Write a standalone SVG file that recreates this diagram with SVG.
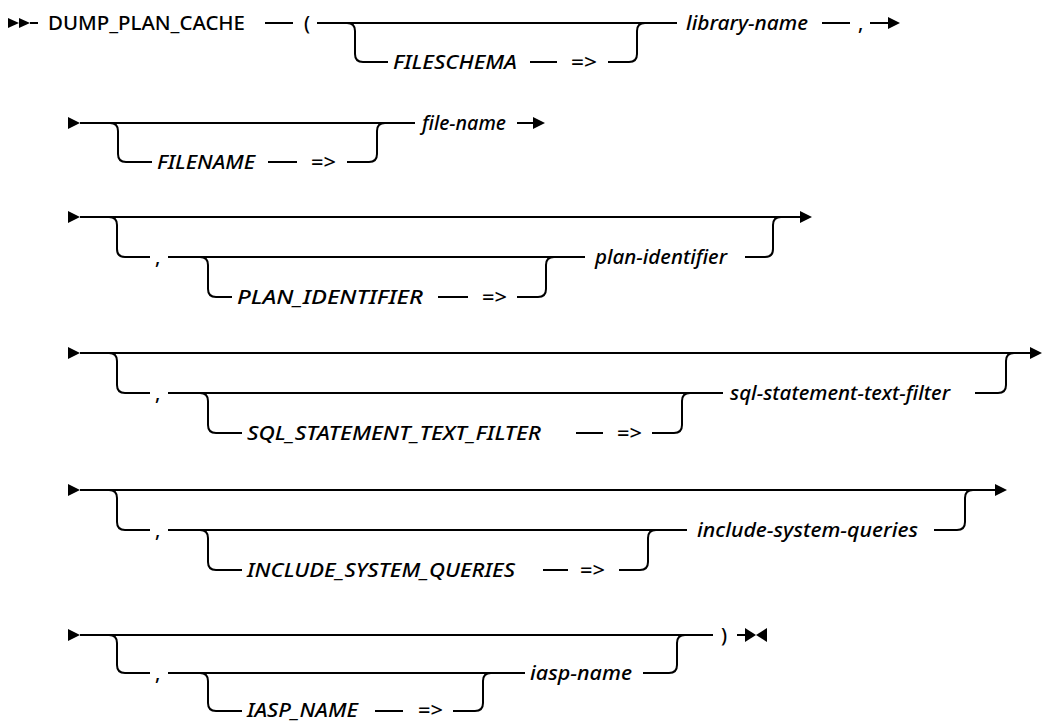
<svg xmlns="http://www.w3.org/2000/svg" xmlns:xlink="http://www.w3.org/1999/xlink" width="1042" height="721" viewBox="0 0 1042 721">
<style>
  .ln { fill: none; stroke: #000; stroke-width: 2; stroke-linecap: butt; }
  .t { font-family: "Noto Sans", "DejaVu Sans", sans-serif; font-size: 19.5px; font-weight: 500; fill: #000; }
  .i { font-style: italic; }
  .ah { fill: #000; }
</style>
<defs>
  <path id="tri" d="M0,-6 L12,0 L0,6 Z"/>
  <path id="tris" d="M0,-5 L11,0 L0,5 Z"/>
  <path id="tril" d="M0,-7 L11,0 L0,7 Z"/>
  <path id="trir" d="M11,-7 L0,0 L11,7 Z"/>
</defs>
<rect width="1042" height="721" fill="#fff"/>

<g id="connectors">
  <!-- Row 1 -->
  <use href="#tris" x="8" y="23" class="ah"/>
  <use href="#tris" x="19" y="23" class="ah"/>
  <path class="ln" d="M30,23 H38"/>
  <path class="ln" d="M265,23 H293"/>
  <path class="ln" d="M317,23 H677"/>
  <path class="ln" d="M347,23 Q355,23 355,31 V54 Q355,62 363,62 H388"/>
  <path class="ln" d="M530,62 H557"/>
  <path class="ln" d="M608,62 H629 Q637,62 637,54 V31 Q637,23 645,23"/>
  <path class="ln" d="M822,23 H850"/>
  <path class="ln" d="M870,23 H888"/>
  <use href="#tri" x="888" y="23" class="ah"/>

  <!-- Row 2 -->
  <use href="#tri" x="68" y="123" class="ah"/>
  <path class="ln" d="M80,123 H415"/>
  <path class="ln" d="M110,123 Q118,123 118,131 V154 Q118,162 126,162 H152"/>
  <path class="ln" d="M268,162 H297"/>
  <path class="ln" d="M347,162 H369 Q377,162 377,154 V131 Q377,123 385,123"/>
  <path class="ln" d="M517,123 H533"/>
  <use href="#tri" x="533" y="123" class="ah"/>

  <!-- Row 3 -->
  <use href="#tri" x="68" y="217" class="ah"/>
  <path class="ln" d="M80,217 H800"/>
  <use href="#tri" x="800" y="217" class="ah"/>
  <path class="ln" d="M109,217 Q117,217 117,225 V249 Q117,257 125,257 H150"/>
  <path class="ln" d="M168,257 H585"/>
  <path class="ln" d="M200,257 Q208,257 208,265 V289 Q208,297 216,297 H232"/>
  <path class="ln" d="M438,297 H468"/>
  <path class="ln" d="M517,297 H538 Q546,297 546,289 V265 Q546,257 554,257"/>
  <path class="ln" d="M745,257 H765 Q773,257 773,249 V225 Q773,217 781,217"/>

  <!-- Row 4 -->
  <use href="#tri" x="68" y="353" class="ah"/>
  <path class="ln" d="M80,353 H1030"/>
  <use href="#tri" x="1030" y="353" class="ah"/>
  <path class="ln" d="M109,353 Q117,353 117,361 V385 Q117,393 125,393 H150"/>
  <path class="ln" d="M168,393 H723"/>
  <path class="ln" d="M200,393 Q208,393 208,401 V425 Q208,433 216,433 H242"/>
  <path class="ln" d="M576,433 H603"/>
  <path class="ln" d="M652,433 H674 Q682,433 682,425 V401 Q682,393 690,393"/>
  <path class="ln" d="M975,393 H998 Q1006,393 1006,385 V361 Q1006,353 1014,353"/>

  <!-- Row 5 -->
  <use href="#tri" x="68" y="490" class="ah"/>
  <path class="ln" d="M80,490 H995"/>
  <use href="#tri" x="995" y="490" class="ah"/>
  <path class="ln" d="M109,490 Q117,490 117,498 V522 Q117,530 125,530 H150"/>
  <path class="ln" d="M168,530 H687"/>
  <path class="ln" d="M200,530 Q208,530 208,538 V562 Q208,570 216,570 H242"/>
  <path class="ln" d="M543,570 H568"/>
  <path class="ln" d="M619,570 H640 Q648,570 648,562 V538 Q648,530 656,530"/>
  <path class="ln" d="M934,530 H957 Q965,530 965,522 V498 Q965,490 973,490"/>

  <!-- Row 6 -->
  <use href="#tri" x="68" y="635" class="ah"/>
  <path class="ln" d="M80,635 H713"/>
  <path class="ln" d="M109,635 Q117,635 117,643 V665 Q117,673 125,673 H150"/>
  <path class="ln" d="M168,673 H525"/>
  <path class="ln" d="M200,673 Q208,673 208,681 V703 Q208,711 216,711 H242"/>
  <path class="ln" d="M375,711 H403"/>
  <path class="ln" d="M453,711 H475 Q483,711 483,703 V681 Q483,673 491,673"/>
  <path class="ln" d="M643,673 H669 Q677,673 677,665 V643 Q677,635 685,635"/>
  <path class="ln" d="M737,635 H745"/>
  <use href="#tril" x="745" y="635" class="ah"/>
  <use href="#trir" x="756" y="635" class="ah"/>
</g>

<g id="row1">
  <text class="t" x="48" y="30" textLength="197" lengthAdjust="spacingAndGlyphs">DUMP_PLAN_CACHE</text>
  <text class="t" x="304" y="30">(</text>
  <text class="t i" x="393" y="69" textLength="124" lengthAdjust="spacingAndGlyphs">FILESCHEMA</text>
  <text class="t" x="571" y="69" textLength="26" lengthAdjust="spacingAndGlyphs">=&gt;</text>
  <text class="t i" x="686" y="30" textLength="122" lengthAdjust="spacingAndGlyphs">library-name</text>
  <text class="t" x="858" y="30">,</text>
</g>

<g id="row2">
  <text class="t i" x="157" y="169" textLength="98" lengthAdjust="spacingAndGlyphs">FILENAME</text>
  <text class="t" x="311" y="169" textLength="25" lengthAdjust="spacingAndGlyphs">=&gt;</text>
  <text class="t i" x="422" y="130" textLength="84" lengthAdjust="spacingAndGlyphs">file-name</text>
</g>

<g id="row3">
  <text class="t" x="155" y="264">,</text>
  <text class="t i" x="237" y="304" textLength="186" lengthAdjust="spacingAndGlyphs">PLAN_IDENTIFIER</text>
  <text class="t" x="482" y="304" textLength="25" lengthAdjust="spacingAndGlyphs">=&gt;</text>
  <text class="t i" x="595" y="264" textLength="132" lengthAdjust="spacingAndGlyphs">plan-identifier</text>
</g>

<g id="row4">
  <text class="t" x="155" y="400">,</text>
  <text class="t i" x="247" y="440" textLength="294" lengthAdjust="spacingAndGlyphs">SQL_STATEMENT_TEXT_FILTER</text>
  <text class="t" x="617" y="440" textLength="25" lengthAdjust="spacingAndGlyphs">=&gt;</text>
  <text class="t i" x="730" y="400" textLength="220" lengthAdjust="spacingAndGlyphs">sql-statement-text-filter</text>
</g>

<g id="row5">
  <text class="t" x="155" y="537">,</text>
  <text class="t i" x="247" y="577" textLength="268" lengthAdjust="spacingAndGlyphs">INCLUDE_SYSTEM_QUERIES</text>
  <text class="t" x="580" y="577" textLength="25" lengthAdjust="spacingAndGlyphs">=&gt;</text>
  <text class="t i" x="697" y="537" textLength="221" lengthAdjust="spacingAndGlyphs">include-system-queries</text>
</g>

<g id="row6">
  <text class="t" x="155" y="680">,</text>
  <text class="t i" x="247" y="717" textLength="111" lengthAdjust="spacingAndGlyphs">IASP_NAME</text>
  <text class="t" x="418" y="717" textLength="25" lengthAdjust="spacingAndGlyphs">=&gt;</text>
  <text class="t i" x="530" y="680" textLength="102" lengthAdjust="spacingAndGlyphs">iasp-name</text>
  <text class="t" x="721" y="642">)</text>
</g>
</svg>
